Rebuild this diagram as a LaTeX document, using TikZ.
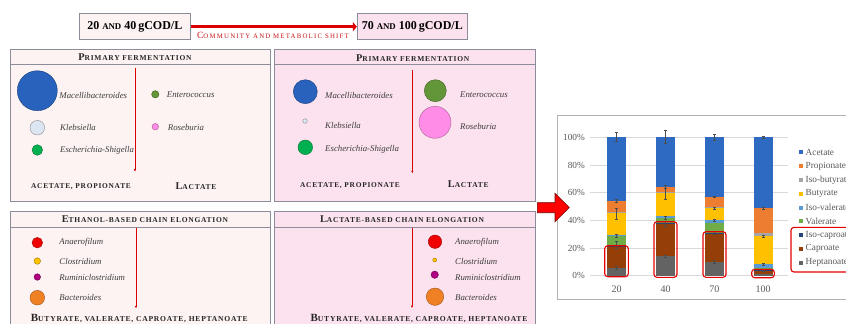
\documentclass[tikz,border=0pt]{standalone}
\usepackage{fontspec}
\setmainfont{Liberation Serif}
\newfontfamily\scf[LetterSpace=10]{Liberation Serif}
\newfontfamily\scr[LetterSpace=18]{Liberation Serif}
\usetikzlibrary{arrows.meta}
\newcommand\SCb[4]{{\fontsize{#1}{#1}\selectfont#3}{\fontsize{#2}{#2}\selectfont#4}}
\definecolor{pborder}{RGB}{140,140,155}
\definecolor{lpink}{RGB}{253,243,243}
\definecolor{dpink}{RGB}{252,226,238}
\definecolor{spgrey}{RGB}{60,60,60}
\definecolor{axgrey}{RGB}{89,89,89}
\definecolor{gridc}{RGB}{217,217,217}
\definecolor{cAce}{RGB}{46,106,194}
\definecolor{cPro}{RGB}{237,125,49}
\definecolor{cIbu}{RGB}{165,165,165}
\definecolor{cBut}{RGB}{255,192,0}
\definecolor{cIva}{RGB}{91,155,213}
\definecolor{cVal}{RGB}{112,173,71}
\definecolor{cIca}{RGB}{38,68,120}
\definecolor{cCap}{RGB}{150,62,8}
\definecolor{cHep}{RGB}{99,99,99}
\definecolor{mac}{RGB}{40,98,188}
\definecolor{kleb}{RGB}{220,230,242}
\definecolor{esch}{RGB}{0,176,80}
\definecolor{ente}{RGB}{98,150,56}
\definecolor{rose}{RGB}{255,140,230}
\definecolor{anae}{RGB}{240,0,0}
\definecolor{clos}{RGB}{255,192,0}
\definecolor{rumi}{RGB}{176,0,128}
\definecolor{bact}{RGB}{240,128,36}
\definecolor{arred}{RGB}{220,0,0}
\definecolor{txred}{RGB}{200,20,20}
\tikzset{
  panelbox/.style={draw=pborder, line width=0.8bp},
  bannerbox/.style={draw=pborder, line width=0.8bp, inner sep=0pt, minimum height=25.8bp, font=\bfseries},
  sp/.style={anchor=west, inner sep=0pt, font=\fontsize{8.8bp}{10bp}\selectfont\itshape, text=spgrey},
  cdot/.style={circle, inner sep=0pt, fill=#1, draw=#1!65!black, line width=0.4bp},
  ttl/.style={inner sep=0pt, font=\scf\bfseries, text=black!85},
  prod/.style={inner sep=0pt, font=\scf\bfseries, text=black!85},
  varr/.style={draw=red!85!black, line width=0.6bp, -{Latex[length=2.5bp,width=2.5bp]}},
  axlab/.style={inner sep=0pt, font=\fontsize{9.3bp}{10bp}\selectfont, text=axgrey},
  errb/.style={draw=black!70, line width=0.5bp},
  redbox/.style={draw=red!90!black, line width=1.1bp, rounded corners=3bp},
}
\begin{document}
\begin{tikzpicture}[x=1bp,y=-1bp]
\useasboundingbox (0,0) rectangle (846,323);
\clip (0,0) rectangle (846,323);
\fill[white] (0,0) rectangle (846,323);

% ---------- banner ----------
\node[bannerbox, fill=lpink, minimum width=111bp] (b1) at (134.8,26.7)
  {\SCb{12bp}{8.8bp}{20 }{AND}\fontsize{12bp}{12bp}\selectfont{} 40\,gCOD/L};
\node[bannerbox, fill=dpink, minimum width=110bp] (b2) at (412.3,26.7)
  {\SCb{12bp}{8.8bp}{70 }{AND}\fontsize{12bp}{12bp}\selectfont{} 100\,gCOD/L};
\draw[draw=arred, line width=3.2bp, -{Triangle[length=4bp,width=9bp]}] (b1.east) -- (b2.west);
\node[inner sep=0pt, font=\scr, text=txred] (shift) at (273,35.6)
  {\SCb{9.5bp}{6.8bp}{C}{OMMUNITY AND METABOLIC SHIFT}};

% ---------- panels ----------
\draw[panelbox, fill=lpink] (10,49) rectangle (270.7,201.7);
\draw[panelbox] (10,64.3) -- (270.7,64.3);
\draw[panelbox, fill=dpink] (274,49) rectangle (535,201.7);
\draw[panelbox] (274,64.3) -- (535,64.3);
\draw[panelbox, fill=lpink] (10,211.7) rectangle (270.7,340);
\draw[panelbox] (10,227.7) -- (270.7,227.7);
\draw[panelbox, fill=dpink] (274,211.7) rectangle (535,340);
\draw[panelbox] (274,227.7) -- (535,227.7);

\node[ttl] (t1) at (135,57.3) {\SCb{10.3bp}{7.5bp}{P}{RIMARY FERMENTATION}};
\node[ttl] (t2) at (412.7,57.8) {\SCb{10.3bp}{7.5bp}{P}{RIMARY FERMENTATION}};
\node[ttl] (t3) at (145,219.3) {\SCb{10.3bp}{7.5bp}{E}{THANOL-BASED CHAIN ELONGATION}};
\node[ttl] (t4) at (402,219.3) {\SCb{10.3bp}{7.5bp}{L}{ACTATE-BASED CHAIN ELONGATION}};

% vertical arrows
\coordinate (v1s) at (135,68.3);  \coordinate (v1e) at (135,171.7);
\coordinate (v2s) at (412.3,70);  \coordinate (v2e) at (412.3,173.3);
\coordinate (v3s) at (136,228.3); \coordinate (v3e) at (136,308.3);
\coordinate (v4s) at (412,228);   \coordinate (v4e) at (412,308);
\draw[varr] (v1s) -- (v1e);
\draw[varr] (v2s) -- (v2e);
\draw[varr] (v3s) -- (v3e);
\draw[varr] (v4s) -- (v4e);

% top-left species
\node[cdot=mac, minimum size=40bp] (c1) at (37.3,90.7) {};
\node[sp] (s1) at (59.3,95) {Macellibacteroides};
\node[cdot=kleb, draw=black!45, minimum size=14.6bp] (c2) at (37.3,127.7) {};
\node[sp] (s2) at (60,127.5) {Klebsiella};
\node[cdot=esch, minimum size=10.6bp] (c3) at (37.3,150) {};
\node[sp] (s3) at (60,150) {Escherichia-Shigella};
\node[cdot=ente, minimum size=7.4bp] (c4) at (155.3,94.3) {};
\node[sp] (s4) at (166.7,94.5) {Enterococcus};
\node[cdot=rose, minimum size=6.6bp] (c5) at (155.3,126.7) {};
\node[sp] (s5) at (167.7,127) {Roseburia};
\node[prod] (p1) at (81,186.7) {\SCb{7.4bp}{7.4bp}{}{ACETATE, PROPIONATE}};
\node[prod] (p2) at (196,186.5) {\SCb{10.3bp}{7.5bp}{L}{ACTATE}};

% top-right species
\node[cdot=mac, minimum size=24bp] (d1) at (305.3,91.7) {};
\node[sp] (r1) at (325,95) {Macellibacteroides};
\node[cdot=kleb, draw=black!45, minimum size=4.6bp] (d2) at (305,121) {};
\node[sp] (r2) at (325,125.7) {Klebsiella};
\node[cdot=esch, minimum size=14.6bp] (d3) at (305.3,147.3) {};
\node[sp] (r3) at (325,149.3) {Escherichia-Shigella};
\node[cdot=ente, minimum size=22bp] (d4) at (435.3,90.7) {};
\node[sp] (r4) at (460,95) {Enterococcus};
\node[cdot=rose, minimum size=32bp] (d5) at (435,122.3) {};
\node[sp] (r5) at (460,126.7) {Roseburia};
\node[prod] (p3) at (350,186) {\SCb{7.4bp}{7.4bp}{}{ACETATE, PROPIONATE}};
\node[prod] (p4) at (468.3,184.3) {\SCb{10.3bp}{7.5bp}{L}{ACTATE}};

% bottom-left species
\node[cdot=anae, minimum size=10.6bp] (e1) at (37.3,242.7) {};
\node[sp] (u1) at (59.3,242.7) {Anaerofilum};
\node[cdot=clos, minimum size=6.6bp] (e2) at (37.3,261) {};
\node[sp] (u2) at (59.3,261.3) {Clostridium};
\node[cdot=rumi, minimum size=6.6bp] (e3) at (37.3,277) {};
\node[sp] (u3) at (59.3,277) {Ruminiclostridium};
\node[cdot=bact, minimum size=14.6bp] (e4) at (37.3,297.7) {};
\node[sp] (u4) at (59.3,297.7) {Bacteroides};
\node[prod] (p5) at (139.3,318.3) {\SCb{11bp}{7.6bp}{B}{UTYRATE, VALERATE, CAPROATE, HEPTANOATE}};

% bottom-right species
\node[cdot=anae, minimum size=13.4bp] (f1) at (435,241.7) {};
\node[sp] (w1) at (455,242.7) {Anaerofilum};
\node[cdot=clos, minimum size=4bp] (f2) at (434.7,260) {};
\node[sp] (w2) at (455,261.3) {Clostridium};
\node[cdot=rumi, minimum size=7.4bp] (f3) at (434.7,274.7) {};
\node[sp] (w3) at (455,277) {Ruminiclostridium};
\node[cdot=bact, minimum size=17.4bp] (f4) at (435,296.7) {};
\node[sp] (w4) at (455,297.7) {Bacteroides};
\node[prod] (p6) at (419,318.3) {\SCb{11bp}{7.6bp}{B}{UTYRATE, VALERATE, CAPROATE, HEPTANOATE}};

% ---------- chart ----------
\draw[draw=black!30, line width=0.8bp] (557.5,115) rectangle (900,299);
\foreach \v in {0,20,40,60,80,100}{
  \draw[gridc, line width=0.6bp] (590,{275.7-1.384*\v}) -- (788,{275.7-1.384*\v});
  \node[axlab, anchor=east] (y\v) at (585,{275.7-1.384*\v}) {\v\%};
}
% bars: bottom/top/colour
\foreach \cx/\data in {
  616.7/{0/5.8/cHep,5.8/21.5/cCap,21.5/21.8/cIca,21.8/29/cVal,29/29.5/cIva,29.5/45/cBut,45/45.8/cIbu,45.8/54/cPro,54/100/cAce},
  665.5/{0/14.2/cHep,14.2/37.6/cCap,37.6/38/cIca,38/41.5/cVal,41.5/43/cIva,43/59.5/cBut,59.5/60.5/cIbu,60.5/64/cPro,64/100/cAce},
  714.4/{0/10/cHep,10/31/cCap,31/31.2/cIca,31.2/38/cVal,38/40/cIva,40/48.7/cBut,48.7/50/cIbu,50/57/cPro,57/100/cAce},
  763/{0/1.4/cHep,1.4/3.6/cCap,3.6/3.8/cIca,3.8/5.3/cVal,5.3/8.2/cIva,8.2/28.7/cBut,28.7/30.6/cIbu,30.6/48.7/cPro,48.7/100/cAce}}{
  \foreach \a/\b/\c in \data{
    \fill[\c] ({\cx-9.5},{275.7-1.384*\a}) rectangle ({\cx+9.5},{275.7-1.384*\b});
  }
}
% error bars: x / value / minus / plus
\foreach \cx/\v/\m/\p in {
  616.7/100/3/3.6, 616.7/54/1/1, 616.7/45/4/4, 616.7/29/1/1, 616.7/22/2.5/3, 616.7/5.8/1/1,
  665.5/100/4.5/5.3, 665.5/64/1/1, 665.5/59.5/4/4, 665.5/42/1/1, 665.5/37.6/2/2, 665.5/14.2/0.7/0.7,
  714.4/100/2.2/2.5, 714.4/57/0.6/0.6, 714.4/48.7/1/1, 714.4/40/0.6/0.6, 714.4/31/1/1, 714.4/10/1/1,
  763/100/0.5/0.8, 763/48.7/0.5/0.5, 763/28.7/0.8/0.8, 763/8.2/0.5/0.5, 763/3.6/0.5/0.5}{
  \draw[errb] (\cx,{275.7-1.384*(\v-\m)}) -- (\cx,{275.7-1.384*(\v+\p)});
  \draw[errb] ({\cx-1.5},{275.7-1.384*(\v-\m)}) -- ({\cx+1.5},{275.7-1.384*(\v-\m)});
  \draw[errb] ({\cx-1.5},{275.7-1.384*(\v+\p)}) -- ({\cx+1.5},{275.7-1.384*(\v+\p)});
}
\node[axlab, font=\fontsize{10bp}{10bp}\selectfont] (x20) at (616.7,289) {20};
\node[axlab, font=\fontsize{10bp}{10bp}\selectfont] (x40) at (665.5,289) {40};
\node[axlab, font=\fontsize{10bp}{10bp}\selectfont] (x70) at (714.4,289) {70};
\node[axlab, font=\fontsize{10bp}{10bp}\selectfont] (x100) at (763,289) {100};

% red highlight boxes
\draw[redbox] (604.7,245.7) rectangle (628.3,276.7);
\draw[redbox] (654,221.7) rectangle (677,277.3);
\draw[redbox] (703,231.7) rectangle (726,277.3);
\draw[redbox] (751.7,269.3) rectangle (774.3,277.7);
\draw[redbox] (791,227.3) rectangle (870,272);

% legend
\foreach \c/\t [count=\i] in {cAce/Acetate, cPro/Propionate, cIbu/Iso-butyrate, cBut/Butyrate,
  cIva/Iso-valerate, cVal/Valerate, cIca/Iso-caproate, cCap/Caproate, cHep/Heptanoate}{
  \fill[\c] ({801-2},{152.3+13.8*(\i-1)-2}) rectangle ({801+2},{152.3+13.8*(\i-1)+2});
  \node[axlab, anchor=west] (lg\i) at (805.5,{152.3+13.8*(\i-1)}) {\t};
}

% big arrow
\draw[fill=red, draw=red!45!black, line width=0.6bp]
  (537.3,202.7) -- (555,202.7) -- (555,193.3) -- (569.3,207.5) -- (555,221.7)
  -- (555,212.7) -- (537.3,212.7) -- cycle;
\end{tikzpicture}
\end{document}
